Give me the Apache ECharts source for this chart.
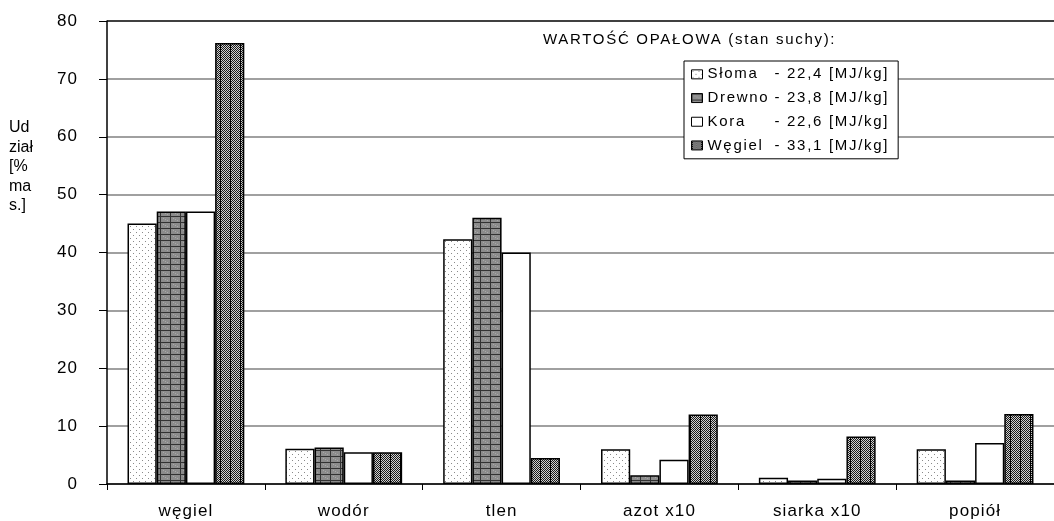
<!DOCTYPE html>
<html>
<head>
<meta charset="utf-8">
<script src="https://cdn.jsdelivr.net/npm/echarts@6/dist/echarts.min.js"></script>
<style>html,body{margin:0;padding:0;background:#fff}#c{width:1054px;height:521px}</style>
</head>
<body>
<div id="c"></div>
<script>
const categories = ['węgiel', 'wodór', 'tlen', 'azot x10', 'siarka x10', 'popiół'];
const seriesNames = ['Słoma', 'Drewno', 'Kora', 'Węgiel'];
const heatingValues = ['22,4', '23,8', '22,6', '33,1'];
const slomaValues  = [45.0, 6.1, 42.3, 6.0, 1.1, 6.0];
const drewnoValues = [47.1, 6.3, 46.0, 1.5, 0.6, 0.6];
const koraValues   = [47.1, 5.5, 40.0, 4.2, 0.9, 7.1];
const wegielValues = [76.2, 5.5, 4.5, 12.0, 8.2, 12.1];
const yTicks = [0, 10, 20, 30, 40, 50, 60, 70, 80];
const titleText = 'WARTOŚĆ OPAŁOWA (stan suchy):';
const yAxisName = 'Ud\nział\n[%\nma\ns.]';

// Wide, Excel-like letter spacing for text drawn in the "Liberation Sans" family
(function () {
  const P = CanvasRenderingContext2D.prototype;
  if (!('letterSpacing' in P)) return;
  const wrap = fn => function () {
    const f = this.font || '';
    let ls = '0px';
    if (/Liberation/.test(f)) {
      const m = /(\d+(?:\.\d+)?)px/.exec(f);
      const size = m ? parseFloat(m[1]) : 12;
      ls = size >= 16.5 ? '1.1px' : '1.7px';
    }
    const prev = this.letterSpacing;
    this.letterSpacing = ls;
    const r = fn.apply(this, arguments);
    this.letterSpacing = prev;
    return r;
  };
  P.fillText = wrap(P.fillText);
  P.strokeText = wrap(P.strokeText);
  P.measureText = wrap(P.measureText);
})();

function pat(w, h, draw) {
  const c = document.createElement('canvas');
  c.width = w; c.height = h;
  const g = c.getContext('2d');
  draw(g);
  return c;
}
const pSloma = pat(6, 6, g => {
  g.fillStyle = '#fff'; g.fillRect(0, 0, 6, 6);
  g.fillStyle = '#8a8a8a'; g.fillRect(1, 1, 1, 1); g.fillRect(4, 4, 1, 1);
});
const pDrewno = pat(10, 6, g => {
  g.fillStyle = '#8c8c8c'; g.fillRect(0, 0, 10, 6);
  g.fillStyle = '#a8a8a8'; g.fillRect(3, 2, 1, 1); g.fillRect(7, 4, 1, 1); g.fillRect(5, 3, 1, 1);
  g.fillStyle = '#333'; g.fillRect(0, 0, 1, 6); g.fillRect(0, 0, 10, 1);
});
const pWegiel = pat(10, 2, g => {
  for (let x = 0; x < 10; x++) for (let y = 0; y < 2; y++) {
    g.fillStyle = ((x + y) % 2 === 0) ? '#1a1a1a' : '#d0d0d0';
    g.fillRect(x, y, 1, 1);
  }
  g.fillStyle = '#000'; g.fillRect(0, 0, 1, 2);
});
const fills = [
  { image: pSloma, repeat: 'repeat' },
  { image: pDrewno, repeat: 'repeat' },
  '#ffffff',
  { image: pWegiel, repeat: 'repeat' }
];
const allValues = [slomaValues, drewnoValues, koraValues, wegielValues];

const font = '"Liberation Sans", sans-serif';
const plainFont = 'Arial, sans-serif';
const chart = echarts.init(document.getElementById('c'), null, { renderer: 'canvas' });

const splitColors = yTicks.map((t, i) => i === yTicks.length - 1 ? '#000' : '#808080');

chart.setOption({
  animation: false,
  backgroundColor: '#fff',
  textStyle: { fontFamily: font, color: '#000' },
  grid: { left: 107, top: 21, width: 960, height: 463, containLabel: false },
  legend: {
    orient: 'vertical',
    left: 684, top: 61,
    icon: 'rect',
    itemWidth: 11, itemHeight: 9, itemGap: 7,
    backgroundColor: '#fff',
    borderColor: '#000', borderWidth: 1, borderRadius: 0,
    padding: [5, 9, 5, 7],
    selectedMode: false,
    data: seriesNames,
    itemStyle: { borderColor: '#000', borderWidth: 1 },
    textStyle: {
      fontFamily: font, fontSize: 15, color: '#000',
      rich: {
        n: { width: 67, fontSize: 15, fontFamily: font, color: '#000' },
        v: { fontSize: 15, fontFamily: font, color: '#000' }
      }
    },
    formatter: name => {
      const i = seriesNames.indexOf(name);
      return '{n|' + name + '}{v|- ' + heatingValues[i] + ' [MJ/kg]}';
    }
  },
  xAxis: {
    type: 'category',
    data: categories,
    axisLine: { lineStyle: { color: '#000', width: 1.5 } },
    axisTick: { show: true, length: 6, lineStyle: { color: '#000', width: 1 } },
    axisLabel: { fontSize: 17, color: '#000', margin: 18, fontFamily: font }
  },
  yAxis: {
    type: 'value',
    min: 0, max: 80, interval: 10,
    axisLine: { show: true, lineStyle: { color: '#000', width: 1.5 } },
    axisTick: { show: true, length: 8, lineStyle: { color: '#000', width: 1 } },
    axisLabel: { fontSize: 17, color: '#000', margin: 29, fontFamily: font },
    splitLine: { show: true, lineStyle: { color: splitColors, width: 1.5 } }
  },
  series: seriesNames.map((n, i) => ({
    name: n,
    type: 'bar',
    data: allValues[i],
    barGap: '0%',
    barCategoryGap: '26%',
    itemStyle: { color: fills[i], borderColor: '#000', borderWidth: 1.5 }
  })),
  graphic: [
    { type: 'text', left: 543, top: 32, silent: true,
      style: { text: titleText, fontSize: 15, fontFamily: font, fill: '#000' } },
    { type: 'text', left: 9, top: 118, silent: true,
      style: { text: yAxisName, fontSize: 16, lineHeight: 19.5, fontFamily: plainFont, fill: '#000' } }
  ]
});
</script>
</body>
</html>
